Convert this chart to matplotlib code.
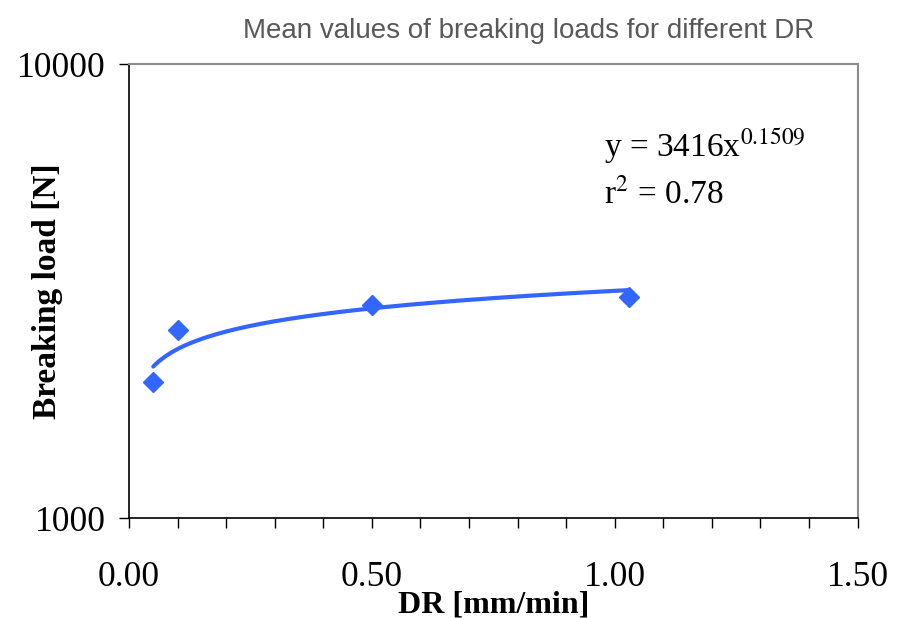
#!/usr/bin/env python3
"""Mean breaking loads vs. displacement rate, log-scale with power trend line."""

import matplotlib

matplotlib.use("Agg")
import matplotlib.pyplot as plt  # noqa: E402
import numpy as np  # noqa: E402
from matplotlib.ticker import FixedLocator, FormatStrFormatter, MultipleLocator  # noqa: E402

# data
dr = [0.05, 0.10, 0.50, 1.03]           # mm/min
load = [1993, 2595, 2945, 3068]         # N
x_ticks = [0.0, 0.5, 1.0, 1.5]
y_ticks = [1000, 10000]
eq_text = "y = 3416x$^{0.1509}$"
r2_text = "r$^{2}$ = 0.78"

BLUE = "#3366ff"

plt.rcParams["mathtext.fontset"] = "stix"


def main() -> int:
    fig = plt.figure(figsize=(9.04, 6.18), dpi=100)
    ax = fig.add_axes([0.1427, 0.1618, 0.806, 0.7346])

    # power trend line fitted to the plotted points
    b, ln_a = np.polyfit(np.log(dr), np.log(load), 1)
    xs = np.linspace(min(dr), max(dr), 200)
    ax.plot(xs, np.exp(ln_a) * xs**b, color=BLUE, lw=3.0, solid_capstyle="round")
    ax.plot(dr, load, ls="none", marker="D", ms=10, color=BLUE, mec=BLUE)

    ax.set_yscale("log")
    ax.set_xlim(0, 1.5)
    ax.set_ylim(1000, 10000)
    ax.yaxis.set_major_locator(FixedLocator(y_ticks))
    ax.yaxis.set_minor_locator(FixedLocator([]))
    ax.yaxis.set_major_formatter(FormatStrFormatter("%d"))
    ax.xaxis.set_major_locator(FixedLocator(x_ticks))
    ax.xaxis.set_minor_locator(MultipleLocator(0.1))
    ax.xaxis.set_major_formatter(FormatStrFormatter("%.2f"))

    serif = "Liberation Serif"
    for lab in ax.get_xticklabels() + ax.get_yticklabels():
        lab.set_family(serif)
        lab.set_fontsize(25.5)
    ax.tick_params(axis="x", which="both", direction="out", length=7, width=1,
                   pad=24, colors="black")
    ax.tick_params(axis="y", which="major", direction="out", length=7, width=1,
                   pad=10)

    for side in ("left", "bottom"):
        ax.spines[side].set_color("black")
        ax.spines[side].set_linewidth(1.2)
    for side in ("top", "right"):
        ax.spines[side].set_color("#8c8c8c")
        ax.spines[side].set_linewidth(1.5)

    ax.set_xlabel("DR [mm/min]", family=serif, fontweight="bold", fontsize=23)
    ax.xaxis.set_label_coords(0.5, -0.16)
    ax.set_ylabel("Breaking load [N]", family=serif, fontweight="bold",
                  fontsize=24)
    ax.yaxis.set_label_coords(-0.09, 0.5)
    fig.text(0.585, 0.95, "Mean values of breaking loads for different DR",
             ha="center", va="center", family="Liberation Sans", fontsize=20,
             color="#595959")

    ax.text(0.652, 0.794, eq_text, transform=ax.transAxes, family=serif,
            fontsize=24)
    ax.text(0.652, 0.694, r2_text, transform=ax.transAxes, family=serif,
            fontsize=24)

    fig.savefig("out.png", dpi=100)
    return 0


if __name__ == "__main__":
    raise SystemExit(main())
